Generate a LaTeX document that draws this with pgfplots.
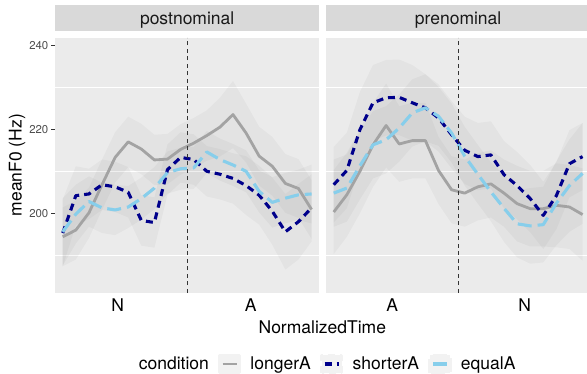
\documentclass[border=0pt]{standalone}
\usepackage{fontspec}
\setmainfont{TeX Gyre Heros}
\usepackage{pgfplots}
\pgfplotsset{compat=1.18}
\usepackage{pgfplotstable}
\usepgfplotslibrary{fillbetween}

\definecolor{bg}{HTML}{EBEBEB}
\definecolor{strip}{HTML}{D9D9D9}
\definecolor{lgrey}{HTML}{A3A3A3}
\definecolor{navyc}{HTML}{00008B}
\definecolor{skyc}{HTML}{87CEEB}
\definecolor{keyfill}{HTML}{F2F2F2}
\definecolor{tickc}{HTML}{4D4D4D}
\definecolor{tickm}{HTML}{333333}

\newcommand\bigf{\fontsize{17.5}{21}\selectfont}
\newcommand\smallf{\fontsize{11.4}{13}\selectfont}

% x L Lw S Sw E Ew : means (Hz) and ribbon half-widths
\pgfplotstableread{
x L Lw S Sw E Ew
1 194.4 7 195.3 8 195.6 8
2 196.0 7 204.2 7 199.8 7
3 200.1 6 204.6 6 202.8 6
4 206.8 6 206.8 6 201.3 6
5 213.3 6 206.3 6 200.8 6
6 217.0 6 205.0 6 201.5 5
7 215.3 6 198.3 6 203.5 5
8 212.7 6 197.8 6 206.0 5
9 212.9 6 210.4 6 209.7 5
10 215.2 6 213.3 6 210.6 5
11 216.7 6 212.8 6 210.8 5
12 218.5 6 210.0 6 214.6 5
13 220.5 7 209.3 6 212.8 5
14 223.5 8 208.3 6 211.5 5
15 219.1 7 206.6 7 210.0 5
16 213.6 7 204.3 7 205.2 5
17 211.2 7 200.5 8 202.6 6
18 207.1 7 195.6 9 203.6 6
19 205.9 7 198.0 9 204.4 6
20 200.9 7 201.3 8 204.6 7
}\postdata

\pgfplotstableread{
x L Lw S Sw E Ew
1 200.3 10 206.8 9 204.8 8
2 204.4 10 210.2 9 206.0 8
3 210.0 10 219.9 9 211.3 8
4 216.3 10 226.3 9 216.3 8
5 220.9 10 227.5 9 217.5 8
6 216.5 9 227.6 9 220.3 8
7 217.3 9 226.3 9 223.9 8
8 217.3 9 225.1 8 225.1 8
9 210.2 8 222.7 8 223.1 7
10 205.6 8 218.7 8 219.1 7
11 204.8 8 215.0 8 213.6 7
12 206.3 8 213.5 8 209.3 7
13 207.0 8 213.9 8 205.1 7
14 204.8 8 209.2 8 201.2 8
15 202.3 9 206.6 8 197.5 8
16 201.1 9 203.5 8 197.0 9
17 201.1 9 199.5 8 197.3 9
18 201.9 10 204.2 8 202.4 10
19 201.5 10 211.8 8 206.6 11
20 199.7 11 213.5 8 209.5 12
}\predata

\pgfplotsset{
  panel/.style={
    scale only axis, width=264.3pt, height=255pt,
    anchor=south west,
    xmin=0.41, xmax=20.59, ymin=181.1, ymax=241.8,
    axis background/.style={fill=bg},
    axis line style={draw=none},
    ytick={200,220,240}, minor ytick={190,210,230},
    yminorgrids=true, ymajorgrids=false, xmajorgrids=false,
    minor grid style={white, line width=0.9pt},
    minor tick length=0pt,
    tick align=outside, tick pos=left,
    major tick length=3.5pt,
    xtick style={draw=none},
    ytick style={draw=tickm, line width=0.8pt},
    /pgf/number format/assume math mode=true,
    yticklabel style={font=\smallf, text=tickc, inner sep=0pt, xshift=-3pt},
    xticklabel style={font=\bigf, text=black, anchor=base, yshift=-15.5pt},
    title style={at={(0.5,1)}, anchor=south, fill=strip, minimum width=264.3pt,
      minimum height=26.7pt, inner sep=0pt, font=\bigf, text=black!90, text depth=0pt, yshift=0pt},
    clip=true,
  },
  ribbon/.style={fill=black, fill opacity=0.03, draw=none, forget plot},
  longline/.style={color=lgrey, line width=2.8pt, line join=round},
  shortline/.style={color=navyc, line width=3.1pt, line join=round, dash pattern=on 7pt off 5pt},
  equalline/.style={color=skyc, line width=3.1pt, line join=round, dash pattern=on 14pt off 6pt},
  vline/.style={color=tickm, line width=1.1pt, dash pattern=on 4pt off 3.5pt, forget plot},
}

\begin{document}
\begin{tikzpicture}
\begin{axis}[panel, at={(55pt,81.3pt)},
  title={postnominal},
  xtick={5.2,15.35}, xticklabels={N,A},
  ylabel={meanF0 (Hz)},
  ylabel style={at={(axis description cs:-0.1438,0.5)}, anchor=center, font=\bigf},
  xlabel={NormalizedTime},
  xlabel style={at={(axis description cs:1.0114,-0.1345)}, anchor=center, font=\bigf},
  legend columns=-1,
  legend style={at={(1.012,-0.2795)}, anchor=center, draw=none, fill=none,
    font=\bigf, inner sep=0pt, nodes={inner sep=0pt},
    /tikz/every even column/.append style={column sep=9.4pt},
    /tikz/every odd column/.append style={column sep=9.4pt}},
  legend image code/.code={\fill[keyfill] (0pt,-8.65pt) rectangle (20pt,8.65pt);
    \draw[#1] (3pt,0pt) -- (17pt,0pt);},
]
% ribbons
\addplot[draw=none, name path=Lu, forget plot] table[x=x, y expr=\thisrow{L}+\thisrow{Lw}] {\postdata};
\addplot[draw=none, name path=Ll, forget plot] table[x=x, y expr=\thisrow{L}-\thisrow{Lw}] {\postdata};
\addplot[ribbon] fill between[of=Lu and Ll];
\addplot[draw=none, name path=Su, forget plot] table[x=x, y expr=\thisrow{S}+\thisrow{Sw}] {\postdata};
\addplot[draw=none, name path=Sl, forget plot] table[x=x, y expr=\thisrow{S}-\thisrow{Sw}] {\postdata};
\addplot[ribbon] fill between[of=Su and Sl];
\addplot[draw=none, name path=Eu, forget plot] table[x=x, y expr=\thisrow{E}+\thisrow{Ew}] {\postdata};
\addplot[draw=none, name path=El, forget plot] table[x=x, y expr=\thisrow{E}-\thisrow{Ew}] {\postdata};
\addplot[ribbon] fill between[of=Eu and El];
% legend title
\addlegendimage{empty legend}
\addlegendentry{condition}
% lines
\addplot[longline] table[x=x, y=L] {\postdata};
\addlegendentry{longerA}
\addplot[shortline] table[x=x, y=S] {\postdata};
\addlegendentry{shorterA}
\addplot[equalline] table[x=x, y=E] {\postdata};
\addlegendentry{equalA}
\addplot[vline] coordinates {(10.5,181.1) (10.5,241.8)};
\end{axis}

\begin{axis}[panel, at={(326pt,81.3pt)},
  title={prenominal},
  xtick={5.47,15.58}, xticklabels={A,N},
  yticklabels={}, ytick style={draw=none},
]
\addplot[draw=none, name path=Lu, forget plot] table[x=x, y expr=\thisrow{L}+\thisrow{Lw}] {\predata};
\addplot[draw=none, name path=Ll, forget plot] table[x=x, y expr=\thisrow{L}-\thisrow{Lw}] {\predata};
\addplot[ribbon] fill between[of=Lu and Ll];
\addplot[draw=none, name path=Su, forget plot] table[x=x, y expr=\thisrow{S}+\thisrow{Sw}] {\predata};
\addplot[draw=none, name path=Sl, forget plot] table[x=x, y expr=\thisrow{S}-\thisrow{Sw}] {\predata};
\addplot[ribbon] fill between[of=Su and Sl];
\addplot[draw=none, name path=Eu, forget plot] table[x=x, y expr=\thisrow{E}+\thisrow{Ew}] {\predata};
\addplot[draw=none, name path=El, forget plot] table[x=x, y expr=\thisrow{E}-\thisrow{Ew}] {\predata};
\addplot[ribbon] fill between[of=Eu and El];
\addplot[longline] table[x=x, y=L] {\predata};
\addplot[shortline] table[x=x, y=S] {\predata};
\addplot[equalline] table[x=x, y=E] {\predata};
\addplot[vline] coordinates {(10.5,181.1) (10.5,241.8)};
\end{axis}
\pgfresetboundingbox
\useasboundingbox (0pt,0pt) rectangle (587pt,374pt);
\end{tikzpicture}
\end{document}
